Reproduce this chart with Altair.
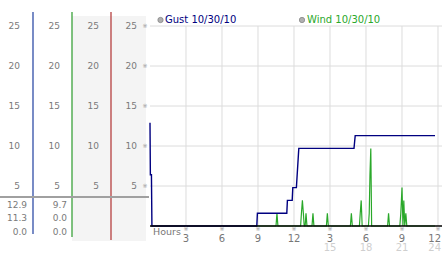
import altair as alt
import pandas as pd

# ---- data ----
gust_hours = [0.0, 0.03, 0.12, 0.16, 8.9, 8.95, 11.4, 11.45, 11.85, 11.9, 12.2, 12.4, 17.0, 17.1, 23.75]
gust_mph = [12.9, 6.4, 6.4, 0.0, 0.0, 1.6, 1.6, 3.2, 3.2, 4.8, 4.8, 9.7, 9.7, 11.3, 11.3]

wind_hours = [8.9, 10.5, 10.58, 10.66, 10.74,
              12.55, 12.62, 12.7, 12.78, 12.85, 12.93, 13.0, 13.08,
              13.5, 13.58, 13.66, 14.7, 14.78, 14.86,
              16.7, 16.78, 16.86, 17.45, 17.52, 17.6, 17.68,
              18.2, 18.27, 18.33, 18.4, 18.47,
              19.8, 19.88, 19.96,
              20.82, 20.9, 21.0, 21.08, 21.15, 21.23, 21.32, 21.4, 21.48, 23.75]
wind_mph = [0.0, 0.0, 1.6, 0.0, 0.0,
            0.0, 1.6, 3.2, 1.6, 0.0, 0.0, 1.6, 0.0,
            0.0, 1.6, 0.0, 0.0, 1.6, 0.0,
            0.0, 1.6, 0.0, 0.0, 1.6, 3.2, 0.0,
            0.0, 1.6, 6.4, 9.7, 0.0,
            0.0, 1.6, 0.0,
            0.0, 1.6, 4.8, 0.0, 3.2, 0.0, 1.6, 0.0, 0.0, 0.0]

y_ticks = [5, 10, 15, 20, 25]
x_ticks = [3, 6, 9, 12, 15, 18, 21, 24]
x_labels_top = ["3", "6", "9", "12", "3", "6", "9", "12"]
x_ticks_2nd = [15, 18, 21, 24]
x_labels_2nd = ["15", "18", "21", "24"]
gust_stats = ["12.9", "11.3", "0.0"]
wind_stats = ["9.7", "0.0", "0.0"]
legend_names = ["Gust 10/30/10", "Wind 10/30/10"]

GUST = "#000080"
WIND = "#2aa82a"
FONT = "DejaVu Sans"

xs = alt.Scale(domain=[0, 24.1667], nice=False, zero=False)
ys = alt.Scale(domain=[0, 26.75], nice=False, zero=False)

gust = pd.DataFrame({"h": gust_hours, "v": gust_mph})
wind = pd.DataFrame({"h": wind_hours, "v": wind_mph})
yt = pd.DataFrame({"v": y_ticks, "t": [str(v) for v in y_ticks]})
xt = pd.DataFrame({"h": x_ticks, "t": x_labels_top})
xt2 = pd.DataFrame({"h": x_ticks_2nd, "t": x_labels_2nd})
one = pd.DataFrame({"a": [0]})

X = lambda: alt.X("h:Q", scale=xs, title=None)
Y = lambda: alt.Y("v:Q", scale=ys, title=None)

layers = []

# left panel background (columns 3 and 4)
layers.append(alt.Chart(one).mark_rect(color="#f4f4f4").encode(
    x=alt.value(-78), x2=alt.value(-4), y=alt.value(4), y2=alt.value(229)))

# grid
layers.append(alt.Chart(xt).mark_rule(color="#dcdcdc", strokeWidth=1).encode(
    x=X(), y=alt.Y(datum=0, scale=ys), y2=alt.Y2(datum=25)))
layers.append(alt.Chart(yt).mark_rule(color="#dcdcdc", strokeWidth=1).encode(
    y=Y(), x=alt.X(datum=0, scale=xs), x2=alt.value(292)))

# colored column separators
for xpos, col, y2 in [(-117, "#1f3f9f", 222), (-78, "#2a9a2a", 225), (-39, "#b03030", 228)]:
    layers.append(alt.Chart(one).mark_rule(color=col, strokeWidth=1.2).encode(
        x=alt.value(xpos), y=alt.value(0), y2=alt.value(y2)))

# gray horizontal separator
layers.append(alt.Chart(one).mark_rule(color="#a0a0a0", strokeWidth=2).encode(
    x=alt.value(-150), x2=alt.value(-1), y=alt.value(185)))

# column labels 25..5
for xpos in [-130, -90, -51, -13]:
    layers.append(alt.Chart(yt).mark_text(font=FONT, fontSize=9, color="#7a7a7a",
                                          align="right", baseline="middle").encode(
        y=Y(), x=alt.value(xpos), text="t:N"))

# y tick markers
layers.append(alt.Chart(yt).mark_text(font=FONT, fontSize=6, color="#999",
                                      align="center", baseline="middle").encode(
    y=Y(), x=alt.value(-5), text=alt.value("※")))

# stats
for xpos, vals in [(-123, gust_stats), (-83, wind_stats)]:
    d = pd.DataFrame({"t": vals, "r": [193, 206, 220]})
    layers.append(alt.Chart(d).mark_text(font=FONT, fontSize=9, color="#7a7a7a",
                                         align="right", baseline="middle").encode(
        x=alt.value(xpos), y=alt.Y("r:Q", scale=None), text="t:N"))

# data lines
layers.append(alt.Chart(wind).mark_line(color=WIND, strokeWidth=1.2, interpolate="linear").encode(
    x=X(), y=Y()))
layers.append(alt.Chart(gust).mark_line(color=GUST, strokeWidth=1.4, interpolate="linear").encode(
    x=X(), y=Y()))

# axes lines
layers.append(alt.Chart(one).mark_rule(color="black", strokeWidth=1.5).encode(
    x=alt.X(datum=0, scale=xs), y=alt.value(0), y2=alt.Y2(datum=0)))
layers.append(alt.Chart(one).mark_rule(color="black", strokeWidth=1.5).encode(
    y=alt.Y(datum=0, scale=ys), x=alt.X(datum=0, scale=xs), x2=alt.value(292)))

# x tick markers and labels
layers.append(alt.Chart(xt).mark_text(font=FONT, fontSize=6, color="#999",
                                      align="center", baseline="middle").encode(
    x=X(), y=alt.value(216.5), text=alt.value("※")))

last_top = xt[xt["h"] == 24]
rest_top = xt[xt["h"] != 24]
last_2nd = xt2[xt2["h"] == 24]
rest_2nd = xt2[xt2["h"] != 24]

layers.append(alt.Chart(rest_top).mark_text(font=FONT, fontSize=10, color="#777",
                                            align="center", baseline="middle").encode(
    x=X(), y=alt.value(226.5), text="t:N"))
layers.append(alt.Chart(last_top).mark_text(font=FONT, fontSize=10, color="#777", dx=3,
                                            align="right", baseline="middle").encode(
    x=X(), y=alt.value(226.5), text="t:N"))
layers.append(alt.Chart(rest_2nd).mark_text(font=FONT, fontSize=10, color="#cfcfcf",
                                            align="center", baseline="middle").encode(
    x=X(), y=alt.value(236), text="t:N"))
layers.append(alt.Chart(last_2nd).mark_text(font=FONT, fontSize=10, color="#cfcfcf", dx=3,
                                            align="right", baseline="middle").encode(
    x=X(), y=alt.value(236), text="t:N"))
layers.append(alt.Chart(one).mark_text(font=FONT, fontSize=9.5, color="#777",
                                       align="left", baseline="middle").encode(
    x=alt.value(3), y=alt.value(220), text=alt.value("Hours")))

# legend
leg = pd.DataFrame({"t": legend_names, "px": [10.5, 152], "tx": [15, 157], "c": [GUST, WIND]})
layers.append(alt.Chart(leg).mark_point(filled=True, size=28, color="#b0b0b0",
                                        stroke="#888", strokeWidth=0.8, opacity=1).encode(
    x=alt.X("px:Q", scale=None), y=alt.value(8)))
layers.append(alt.Chart(leg).mark_text(font=FONT, fontSize=10, align="left",
                                       baseline="middle").encode(
    x=alt.X("tx:Q", scale=None), y=alt.value(8), text="t:N",
    color=alt.Color("c:N", scale=None)))

chart = alt.layer(*layers).properties(
    width=290, height=214,
    padding={"left": 150, "top": 12, "right": 2, "bottom": 27},
    autosize=alt.AutoSizeParams(type="none"),
    background="white",
).configure_view(stroke=None).configure_axis(disable=True)

chart.save("out.html", embed_options={"renderer": "svg", "actions": False})
